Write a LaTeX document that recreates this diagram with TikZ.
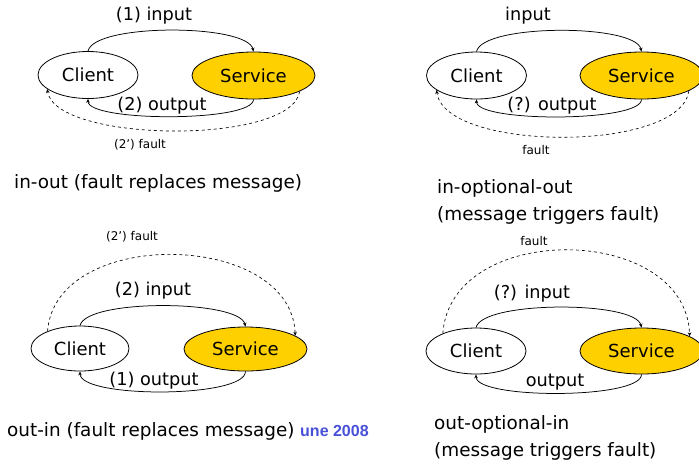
\documentclass[tikz,border=0pt]{standalone}
\usepackage{fontspec}
\setmainfont{DejaVu Sans}
\newfontfamily\datefont{Liberation Sans}
\usetikzlibrary{shapes.geometric,arrows.meta}
\definecolor{svcgold}{RGB}{255,208,0}
\definecolor{dateblue}{RGB}{72,80,216}
\begin{document}
\begin{tikzpicture}[x=1pt,y=-1pt,
  ell/.style={ellipse,draw=black,line width=0.8pt,inner sep=0pt,font=\fontsize{18}{20}\selectfont},
  cli/.style={ell,fill=white,minimum width=100pt,minimum height=47pt},
  svc/.style={ell,fill=svcgold,minimum width=123pt,minimum height=47pt},
  msg/.style={line width=0.75pt,-{Stealth[length=4pt,width=3.5pt]}},
  flt/.style={msg,dashed,line width=0.65pt},
  lbl/.style={font=\fontsize{17.7}{20}\selectfont,inner sep=0pt},
  slbl/.style={font=\fontsize{12}{14}\selectfont,inner sep=0pt},
  captxt/.style={font=\fontsize{18.4}{21}\selectfont,inner sep=0pt,anchor=west}]
\useasboundingbox (0,0) rectangle (699,467);
\begin{scope}
\clip (0,0) rectangle (699,467);
% ---------- panel 1: in-out ----------
\node[cli] (c1) at (88,75) {Client};
\node[svc] (s1) at (253.5,75.5) {Service};
\draw[msg] (c1.north) .. controls +(6,-28) and +(-6,-28) .. (s1.north);
\draw[msg] (s1.south) .. controls +(0,23) and +(0,23) .. (c1.south);
\draw[flt] (s1.-19) .. controls +(-8,54) and +(8,54) .. (c1.199);
\node[lbl] (l1a) at (154,16) {(1) input};
\node[lbl] (l1b) at (162,106) {(2) output};
\node[slbl] (l1c) at (140,145) {(2') fault};
\node[captxt] (t1) at (14,183) {in-out (fault replaces message)};
% ---------- panel 2: in-optional-out ----------
\node[cli] (c2) at (476.5,75.5) {Client};
\node[svc] (s2) at (641.5,75.5) {Service};
\draw[msg] (c2.north) .. controls +(6,-28) and +(-6,-28) .. (s2.north);
\draw[msg] (s2.south) .. controls +(0,23) and +(0,23) .. (c2.south);
\draw[flt] (s2.-18) .. controls +(-8,62) and +(8,62) .. (c2.200);
\node[lbl] (l2a) at (528,16) {input};
\node[lbl] (l2b) at (552,106) {(?) output};
\node[slbl] (l2c) at (536,150) {fault};
\node[captxt] (t2a) at (437,188) {in-optional-out};
\node[captxt] (t2b) at (437,215) {(message triggers fault)};
% ---------- panel 3: out-in ----------
\node[cli,minimum width=98pt,minimum height=45pt] (c3) at (80,348.5) {Client};
\node[svc,minimum height=44pt] (s3) at (245.5,349) {Service};
\draw[msg] (c3.north) .. controls +(6,-27) and +(-6,-27) .. (s3.north);
\draw[msg] (s3.south) .. controls +(0,27) and +(0,27) .. (c3.south);
\draw[flt] (c3.152) .. controls +(8,-105) and +(-4,-105) .. (s3.15);
\node[lbl] (l3a) at (153,291) {(2) input};
\node[lbl] (l3b) at (154,381) {(1) output};
\node[slbl] (l3c) at (132,237) {(2') fault};
\node[captxt] (t3) at (7,431) {out-in (fault replaces message)};
\node[font=\datefont\bfseries\fontsize{16}{18}\selectfont,text=dateblue,inner sep=0pt,anchor=west] (d3) at (300,431) {une 2008};
% ---------- panel 4: out-optional-in ----------
\node[cli,minimum height=46pt] (c4) at (476,351) {Client};
\node[svc,minimum height=46pt] (s4) at (641.5,351) {Service};
\draw[msg] (c4.north) .. controls +(6,-27) and +(-6,-27) .. (s4.north);
\draw[msg] (s4.south) .. controls +(0,25) and +(0,25) .. (c4.south);
\draw[flt] (c4.152) .. controls +(8,-113) and +(-4,-113) .. (s4.17);
\node[lbl] (l4a) at (532,294) {(?) input};
\node[lbl] (l4b) at (555,382) {output};
\node[slbl] (l4c) at (534,241) {fault};
\node[captxt] (t4a) at (434,424) {out-optional-in};
\node[captxt] (t4b) at (434,451) {(message triggers fault)};
\end{scope}
\end{tikzpicture}
\end{document}
